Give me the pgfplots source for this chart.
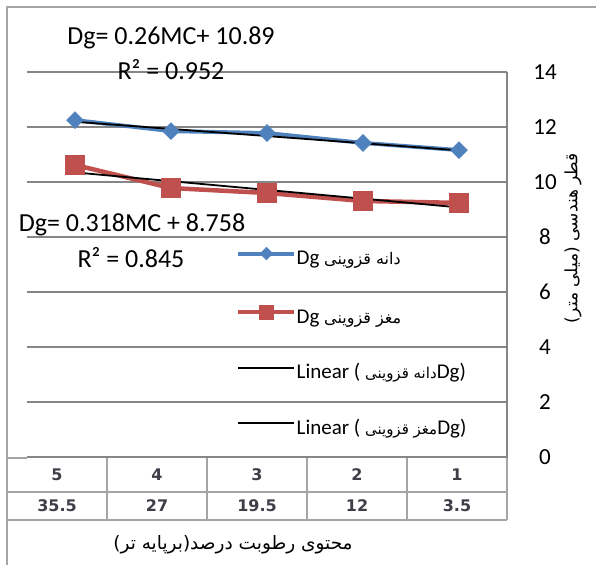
\documentclass[border=0pt]{standalone}
\usepackage{fontspec}
\setmainfont{Carlito}
\newfontfamily\arabicfont[Script=Arabic]{DejaVu Sans}
\newfontfamily\tablefont{DejaVu Sans}
\TeXXeTstate=1
\usepackage{pgfplots}
\pgfplotsset{compat=1.18}
\definecolor{dgblue}{RGB}{79,129,189}
\definecolor{dgred}{RGB}{192,80,77}
\definecolor{gridgray}{RGB}{134,134,134}
\definecolor{framegray}{RGB}{165,165,165}
\definecolor{tabtext}{RGB}{62,62,72}

\begin{document}
\begin{tikzpicture}
\useasboundingbox (0bp,0bp) rectangle (596bp,565bp);
\begin{axis}[
    at={(27bp,108bp)}, anchor=south west,
    width=480bp, height=385bp, scale only axis,
    xmin=0.5, xmax=5.5, x dir=reverse,
    ymin=0, ymax=14, ytick={0,2,...,14},
    xtick=\empty,
    ymajorgrids, grid style={gridgray, line width=1.2bp},
    axis line style={draw=none},
    major tick length=0pt,
    yticklabel pos=right,
    yticklabel style={anchor=center, xshift=38bp},
    ticklabel style={font=\fontsize{23bp}{27bp}\selectfont},
    /pgf/number format/assume math mode=true,
    clip=false,
    legend image code/.code={
      \draw[mark repeat=2, mark phase=2, #1, every mark/.append style={scale=0.75}]
        plot coordinates {(0bp,6bp) (28bp,6bp) (56bp,6bp)};},
    legend style={draw=none, fill=none, inner sep=0pt,
      at={(axis description cs:0.4354,0.5455)}, anchor=north west,
      font=\fontsize{21bp}{24bp}\selectfont,
      nodes={inner sep=0pt, text height=15bp, text depth=5bp},
      row sep=35.5bp,
      /tikz/every even column/.append style={column sep=4bp}},
    legend cell align=left,
  ]
  % Dg of the grain
  \addplot[color=dgblue, line width=4bp, mark=square*, mark size=6bp,
           mark options={rotate=45, solid, line width=0.5bp}]
    coordinates {(1,11.16) (2,11.42) (3,11.78) (4,11.85) (5,12.25)};
  \addlegendentry{Dg {\arabicfont\fontsize{16bp}{20bp}\selectfont\beginR دانه قزوینی\endR}}
  % Dg of the kernel
  \addplot[color=dgred, line width=4.5bp, mark=square*, mark size=9.5bp,
           mark options={solid, line width=0.5bp}]
    coordinates {(1,9.24) (2,9.31) (3,9.60) (4,9.78) (5,10.62)};
  \addlegendentry{Dg {\arabicfont\fontsize{16bp}{20bp}\selectfont\beginR مغز قزوینی\endR}}
  % linear trends
  \addplot[black, line width=1.8bp] coordinates {(1,11.15) (5,12.19)};
  \addlegendentry{Linear ( {\arabicfont\fontsize{15bp}{20bp}\selectfont\beginR دانه قزوینی\endR}Dg)}
  \addplot[black, line width=1.8bp] coordinates {(1,9.076) (5,10.348)};
  \addlegendentry{Linear ( {\arabicfont\fontsize{15bp}{20bp}\selectfont\beginR مغز قزوینی\endR}Dg)}
  \draw[gridgray, line width=1.2bp] (axis description cs:0,0) -- (axis description cs:1,0) -- (axis description cs:1,1);
\end{axis}

% chart frame
\draw[framegray, line width=1.2bp] (7bp,0bp) -- (7bp,558bp) -- (596bp,558bp);

% data table under the axis
\draw[framegray, line width=1.2bp] (7bp,107bp) -- (27bp,107bp);
\draw[framegray, line width=1.2bp] (7bp,73bp) -- (507bp,73bp);
\draw[framegray, line width=1.2bp] (7bp,45bp) -- (507bp,45bp);
\foreach \x in {107,207,307,407,507}
  \draw[framegray, line width=1.2bp] (\x bp,107bp) -- (\x bp,45bp);
\foreach \c/\m [count=\i] in {5/35.5,4/27,3/19.5,2/12,1/3.5} {
  \node[font=\tablefont\bfseries\fontsize{16bp}{18bp}\selectfont, text=tabtext]
    at ({(57+100*(\i-1))*1bp},90bp) {\c};
  \node[font=\tablefont\bfseries\fontsize{16bp}{18bp}\selectfont, text=tabtext]
    at ({(57+100*(\i-1))*1bp},59bp) {\m};
}

% regression labels
\node[font=\fontsize{26bp}{30bp}\selectfont] at (171bp,527bp) {Dg= 0.26MC+ 10.89};
\node[font=\fontsize{26bp}{30bp}\selectfont] at (171bp,495bp) {R² = 0.952};
\node[font=\fontsize{26bp}{30bp}\selectfont] at (132bp,340bp) {Dg= 0.318MC + 8.758};
\node[font=\fontsize{26bp}{30bp}\selectfont] at (131bp,307bp) {R² = 0.845};

% axis titles
\node[font=\arabicfont\fontsize{18.5bp}{22bp}\selectfont] at (233bp,20bp)
  {\beginR محتوی رطوبت درصد(برپایه تر)\endR};
\node[rotate=90, font=\arabicfont\fontsize{17bp}{20bp}\selectfont] at (573bp,327bp)
  {\beginR قطر هندسی (میلی متر)\endR};
\end{tikzpicture}
\end{document}
